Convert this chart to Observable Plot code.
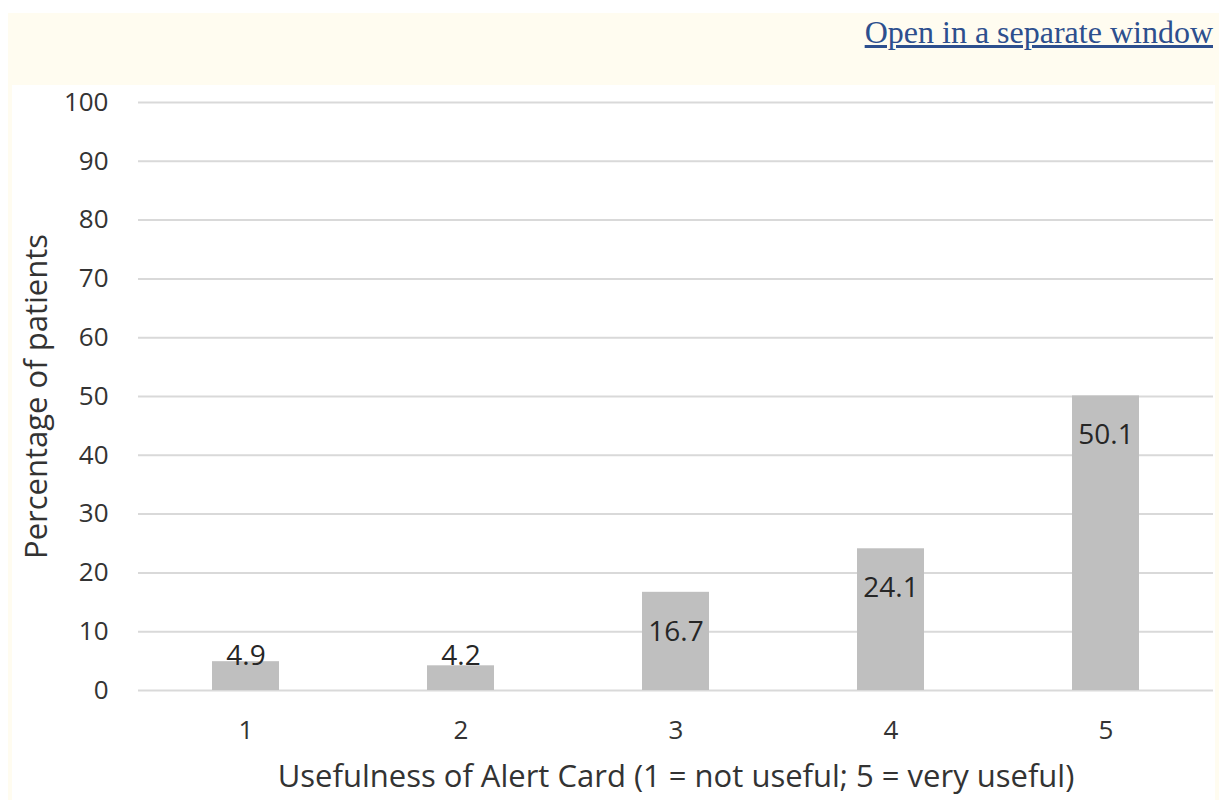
<!DOCTYPE html>
<html>
<head>
<meta charset="utf-8">
<script src="https://cdn.jsdelivr.net/npm/d3@7"></script>
<script src="https://cdn.jsdelivr.net/npm/@observablehq/plot@0.6"></script>
<style>
  html, body { margin: 0; padding: 0; background: #ffffff; width: 1219px; height: 800px; overflow: hidden; }
  #banner { position: absolute; left: 8px; top: 13px; width: 1211px; height: 72px; background: #fffcf0; }
  #banner a { position: absolute; right: 6px; top: 1px; font-family: "Liberation Serif", "DejaVu Serif", serif; font-size: 32px; color: #2d4f8e; text-decoration: underline; }
  #frame { position: absolute; left: 8px; top: 85px; width: 1211px; height: 715px; background: #fffcf0; }
  #chart { position: absolute; left: 4px; top: 0; width: 1203px; height: 715px; background: #ffffff; }
  #chart svg { display: block; position: absolute; left: 0; top: -8px; background: transparent; }
</style>
</head>
<body>
<div id="banner"><a href="#">Open in a separate window</a></div>
<div id="frame"><div id="chart"></div></div>
<script>
const categories = ["1", "2", "3", "4", "5"];
const values = [4.9, 4.2, 16.7, 24.1, 50.1];
const yTicks = [0, 10, 20, 30, 40, 50, 60, 70, 80, 90, 100];
const xTitle = "Usefulness of Alert Card (1 = not useful; 5 = very useful)";
const yTitle = "Percentage of patients";

const data = categories.map((c, i) => ({category: c, value: values[i]}));
const font = "'Open Sans', Lato, sans-serif";

const chart = Plot.plot({
  width: 1203,
  height: 723,
  marginLeft: 126,
  marginRight: 2,
  marginTop: 25,
  marginBottom: 110,
  style: {fontFamily: font, fontSize: "26px", color: "#333333", background: "transparent"},
  x: {domain: categories, paddingInner: 0.69, paddingOuter: 0.345, label: null},
  y: {domain: [0, 100], label: null},
  marks: [
    Plot.gridY(yTicks, {stroke: "#d9d9d9", strokeOpacity: 1, strokeWidth: 2}),
    Plot.barY(data, {x: "category", y: "value", fill: "#bfbfbf"}),
    Plot.text(data, {
      x: "category",
      y: d => Math.max(d.value - 6.7, 5.8),
      text: d => d.value.toFixed(1),
      fill: "#262626",
      fontSize: 28
    }),
    Plot.axisY(yTicks, {
      tickSize: 0, tickPadding: 30, fontSize: 26, fill: "#333333",
      label: yTitle, labelAnchor: "center", labelArrow: "none", labelOffset: 114
    }),
    Plot.axisX({
      tickSize: 0, tickPadding: 30, fontSize: 26, fill: "#333333",
      label: xTitle, labelAnchor: "center", labelArrow: "none", labelOffset: 96
    })
  ]
});

d3.select(chart).selectAll("g[aria-label='y-axis label'] text, g[aria-label='x-axis label'] text")
  .style("font-size", "31px");
document.getElementById("chart").appendChild(chart);
</script>
</body>
</html>
